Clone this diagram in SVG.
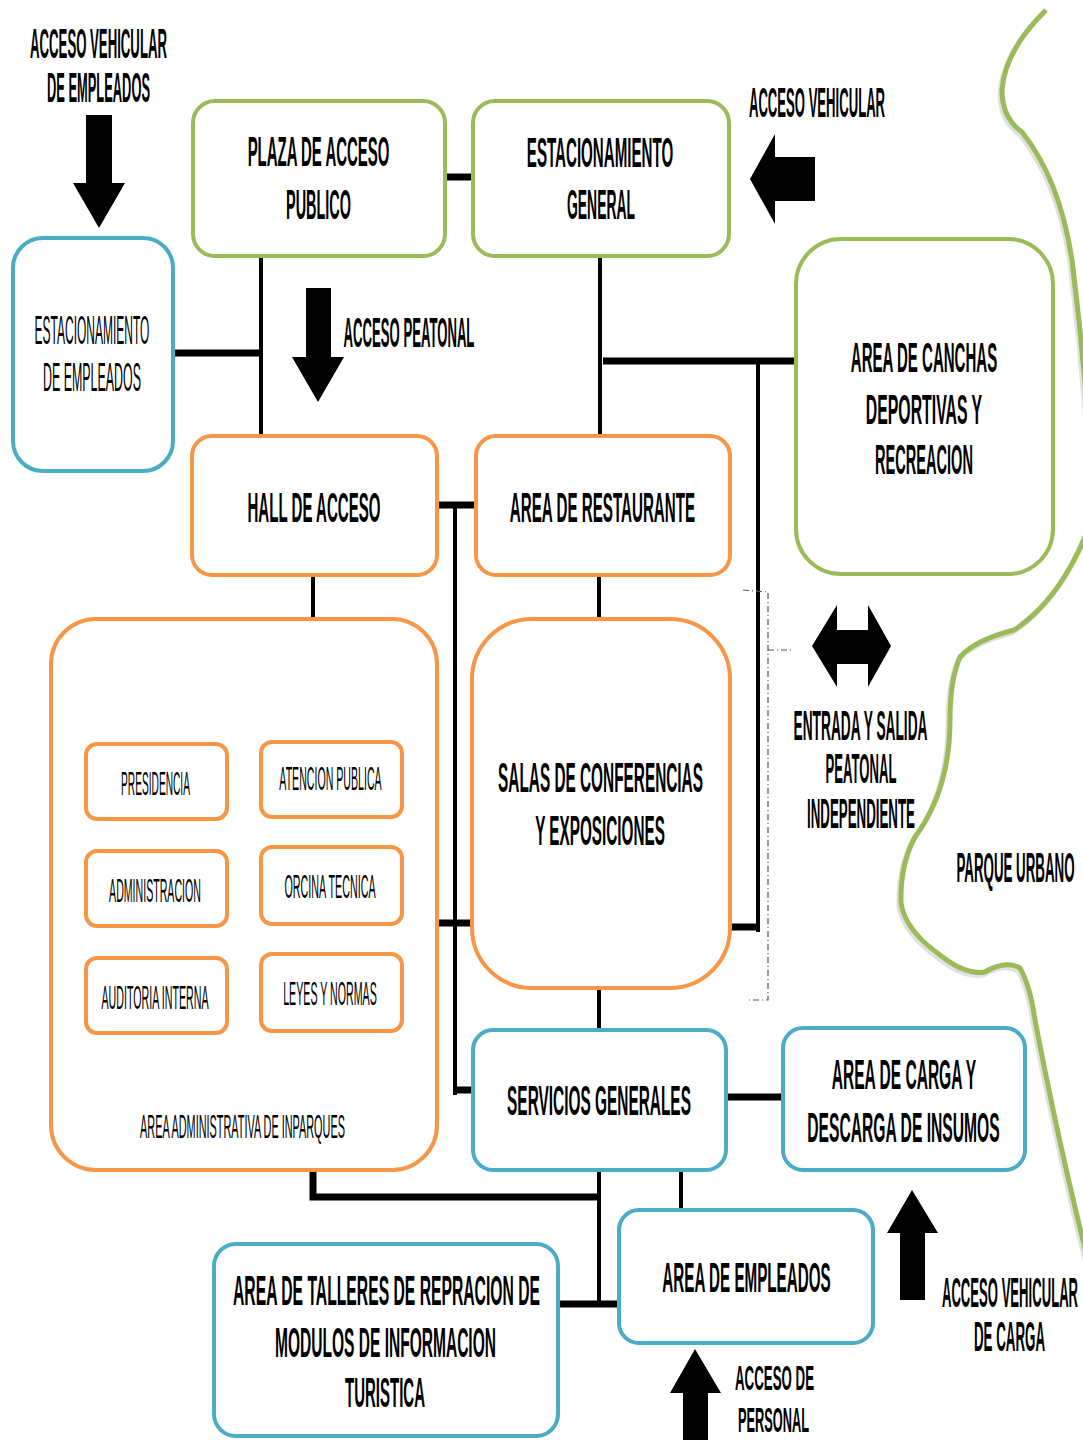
<svg xmlns="http://www.w3.org/2000/svg" width="1083" height="1440" viewBox="0 0 1083 1440">
<style>
.g{fill:#fff;stroke:#9BBB59;stroke-width:4}
.o{fill:#fff;stroke:#F79646;stroke-width:4}
.b{fill:#fff;stroke:#4BACC6;stroke-width:4}
.t{font-family:"Liberation Sans",Arial,sans-serif;font-weight:bold;font-size:42px;fill:#000;text-anchor:middle}
.n{font-family:"Liberation Sans",Arial,sans-serif;font-weight:normal;font-size:40px;fill:#000;text-anchor:middle}
.s{font-family:"Liberation Sans",Arial,sans-serif;font-weight:normal;font-size:34px;fill:#000;text-anchor:middle}
.k{stroke:#000;fill:none;stroke-width:4}
.K{stroke:#000;fill:none;stroke-width:7}
.ar{fill:#000}
</style>
<rect width="1083" height="1440" fill="#fff"/>
<g id="park">
<path d="M1046,10 Q1005,50 1002,90 Q1002,118 1022,132 Q1060,180 1072,260 Q1082,340 1088,420 L1088,530 Q1060,600 1014,630 Q975,640 960,657 Q950,680 950,720 Q950,790 915,837 Q900,865 901,903 Q905,930 940,955 Q965,975 985,972 Q1005,960 1020,968 Q1030,985 1035,1020 Q1060,1150 1088,1260" fill="none" stroke="#000" stroke-opacity="0.12" stroke-width="5" transform="translate(-2,3)"/>
<path d="M1046,10 Q1005,50 1002,90 Q1002,118 1022,132 Q1060,180 1072,260 Q1082,340 1088,420 L1088,530 Q1060,600 1014,630 Q975,640 960,657 Q950,680 950,720 Q950,790 915,837 Q900,865 901,903 Q905,930 940,955 Q965,975 985,972 Q1005,960 1020,968 Q1030,985 1035,1020 Q1060,1150 1088,1260" fill="none" stroke="#9BBB59" stroke-width="5"/>
<text class="t" transform="translate(1015.5,882) scale(0.317,1)">PARQUE URBANO</text>
</g>
<g id="connectors">
<line class="K" x1="445" y1="177" x2="473" y2="177"/>
<line class="k" x1="261" y1="257" x2="261" y2="436"/>
<line class="K" x1="173" y1="353" x2="261" y2="353"/>
<line class="k" x1="600" y1="257" x2="600" y2="436"/>
<line class="K" x1="603" y1="361" x2="796" y2="361"/>
<line class="k" x1="758" y1="361" x2="758" y2="932"/>
<line class="K" x1="729" y1="927" x2="760" y2="927"/>
<line class="K" x1="437" y1="505" x2="476" y2="505"/>
<line class="k" x1="455" y1="505" x2="455" y2="1095"/>
<line class="K" x1="437" y1="923" x2="472" y2="923"/>
<line class="K" x1="453" y1="1090" x2="473" y2="1090"/>
<line class="k" x1="313" y1="575" x2="313" y2="619"/>
<line class="k" x1="599" y1="575" x2="599" y2="619"/>
<line class="k" x1="599" y1="988" x2="599" y2="1030"/>
<line class="K" x1="726" y1="1097" x2="783" y2="1097"/>
<polyline class="K" points="313,1170 313,1197 601,1197"/>
<line class="k" x1="599" y1="1170" x2="599" y2="1305"/>
<line class="K" x1="558" y1="1304" x2="618" y2="1304"/>
<line class="k" x1="681" y1="1170" x2="681" y2="1210"/>
<path d="M743,590 L768,592 L768,1000 L747,1000 M768,650 L792,650" fill="none" stroke="#555" stroke-width="1.2" stroke-dasharray="6,3,1,3"/>
</g>
<g id="arrows">
<polygon class="ar" points="86,115 112,115 112,183 125,183 99,228 73,183 86,183"/>
<polygon class="ar" points="306,288 331,288 331,357 344,357 318,402 292,357 306,357"/>
<polygon class="ar" points="815,157 775,157 775,134 750,179 775,224 775,201 815,201"/>
<polygon class="ar" points="812,646 837,605 837,630 868,630 868,605 891,646 868,687 868,664 837,664 837,687"/>
<polygon class="ar" points="912,1190 938,1233 925,1233 925,1300 900,1300 900,1233 887,1233"/>
<polygon class="ar" points="695,1349 721,1393 708,1393 708,1440 683,1440 683,1393 670,1393"/>
</g>
<g id="labels">
<text class="t" transform="translate(98.5,58) scale(0.314,1)">ACCESO VEHICULAR</text>
<text class="t" transform="translate(98.5,102) scale(0.3065,1)">DE EMPLEADOS</text>
<text class="t" transform="translate(817,117) scale(0.312,1)">ACCESO VEHICULAR</text>
<text class="t" transform="translate(409,347) scale(0.3125,1)">ACCESO PEATONAL</text>
<text class="t" transform="translate(860.5,740) scale(0.327,1)">ENTRADA Y SALIDA</text>
<text class="t" transform="translate(861,783) scale(0.312,1)">PEATONAL</text>
<text class="t" transform="translate(861,828) scale(0.317,1)">INDEPENDIENTE</text>
<text class="t" transform="translate(1010,1307) scale(0.312,1)">ACCESO VEHICULAR</text>
<text class="t" transform="translate(1009.5,1351) scale(0.317,1)">DE CARGA</text>
<text class="t" style="font-size:35px" transform="translate(774.5,1390) scale(0.38,1)">ACCESO DE</text>
<text class="t" style="font-size:35px" transform="translate(773.5,1432) scale(0.365,1)">PERSONAL</text>
</g>
<g id="plaza">
<rect class="g" x="193" y="101" width="252" height="155" rx="22"/>
<text class="t" transform="translate(318.5,166) scale(0.356,1)">PLAZA DE ACCESO</text>
<text class="t" transform="translate(318.5,219) scale(0.344,1)">PUBLICO</text>
</g>
<g id="est-general">
<rect class="g" x="473" y="101" width="256" height="155" rx="22"/>
<text class="t" transform="translate(600,167) scale(0.36,1)">ESTACIONAMIENTO</text>
<text class="t" transform="translate(601,219) scale(0.331,1)">GENERAL</text>
</g>
<g id="est-empleados">
<rect class="b" x="13" y="238" width="160" height="233" rx="30"/>
<text class="n" transform="translate(92,344) scale(0.3,1)">ESTACIONAMIENTO</text>
<text class="n" transform="translate(92,391) scale(0.3105,1)">DE EMPLEADOS</text>
</g>
<g id="canchas">
<rect class="g" x="796" y="239" width="257" height="335" rx="45"/>
<text class="t" transform="translate(924,372) scale(0.358,1)">AREA DE CANCHAS</text>
<text class="t" transform="translate(924,424) scale(0.377,1)">DEPORTIVAS Y</text>
<text class="t" transform="translate(924,474) scale(0.347,1)">RECREACION</text>
</g>
<g id="hall">
<rect class="o" x="192" y="436" width="245" height="139" rx="20"/>
<text class="t" transform="translate(314,522) scale(0.359,1)">HALL DE ACCESO</text>
</g>
<g id="restaurante">
<rect class="o" x="476" y="436" width="254" height="139" rx="20"/>
<text class="t" transform="translate(602.5,522) scale(0.361,1)">AREA DE RESTAURANTE</text>
</g>
<g id="admin">
<rect class="o" x="51" y="619" width="386" height="551" rx="45"/>
<g id="presidencia"><rect class="o" x="86" y="744" width="141" height="75" rx="11"/>
<text class="s" transform="translate(155.5,795) scale(0.299,1)">PRESIDENCIA</text></g>
<g id="atencion"><rect class="o" x="261" y="742" width="141" height="75" rx="11"/>
<text class="s" transform="translate(330.5,790) scale(0.312,1)">ATENCION PUBLICA</text></g>
<g id="administracion"><rect class="o" x="86" y="851" width="141" height="75" rx="11"/>
<text class="s" transform="translate(155,902) scale(0.312,1)">ADMINISTRACION</text></g>
<g id="oficina"><rect class="o" x="261" y="847" width="141" height="77" rx="11"/>
<text class="s" transform="translate(330,898) scale(0.316,1)">ORCINA TECNICA</text></g>
<g id="auditoria"><rect class="o" x="86" y="958" width="141" height="75" rx="11"/>
<text class="s" transform="translate(155,1009) scale(0.314,1)">AUDITORIA INTERNA</text></g>
<g id="leyes"><rect class="o" x="261" y="954" width="141" height="77" rx="11"/>
<text class="s" transform="translate(330,1005) scale(0.313,1)">LEYES Y NORMAS</text></g>
<text class="s" transform="translate(242.5,1138) scale(0.32,1)">AREA ADMINISTRATIVA DE INPARQUES</text>
</g>
<g id="salas">
<rect class="o" x="472" y="619" width="258" height="369" rx="60"/>
<text class="t" transform="translate(600.5,792) scale(0.366,1)">SALAS DE CONFERENCIAS</text>
<text class="t" transform="translate(600,845) scale(0.364,1)">Y EXPOSICIONES</text>
</g>
<g id="servicios">
<rect class="b" x="473" y="1030" width="253" height="140" rx="20"/>
<text class="t" transform="translate(599,1115) scale(0.367,1)">SERVICIOS GENERALES</text>
</g>
<g id="carga">
<rect class="b" x="783" y="1028" width="242" height="142" rx="20"/>
<text class="t" transform="translate(904,1089) scale(0.37,1)">AREA DE CARGA Y</text>
<text class="t" transform="translate(903.5,1142) scale(0.3726,1)">DESCARGA DE INSUMOS</text>
</g>
<g id="empleados">
<rect class="b" x="619" y="1210" width="254" height="133" rx="20"/>
<text class="t" transform="translate(746.5,1292) scale(0.362,1)">AREA DE EMPLEADOS</text>
</g>
<g id="talleres">
<rect class="b" x="214" y="1244" width="344" height="192" rx="22"/>
<text class="t" transform="translate(386.5,1305) scale(0.374,1)">AREA DE TALLERES DE REPRACION DE</text>
<text class="t" transform="translate(385.5,1357) scale(0.37,1)">MODULOS DE INFORMACION</text>
<text class="t" transform="translate(385,1407) scale(0.357,1)">TURISTICA</text>
</g>
</svg>
